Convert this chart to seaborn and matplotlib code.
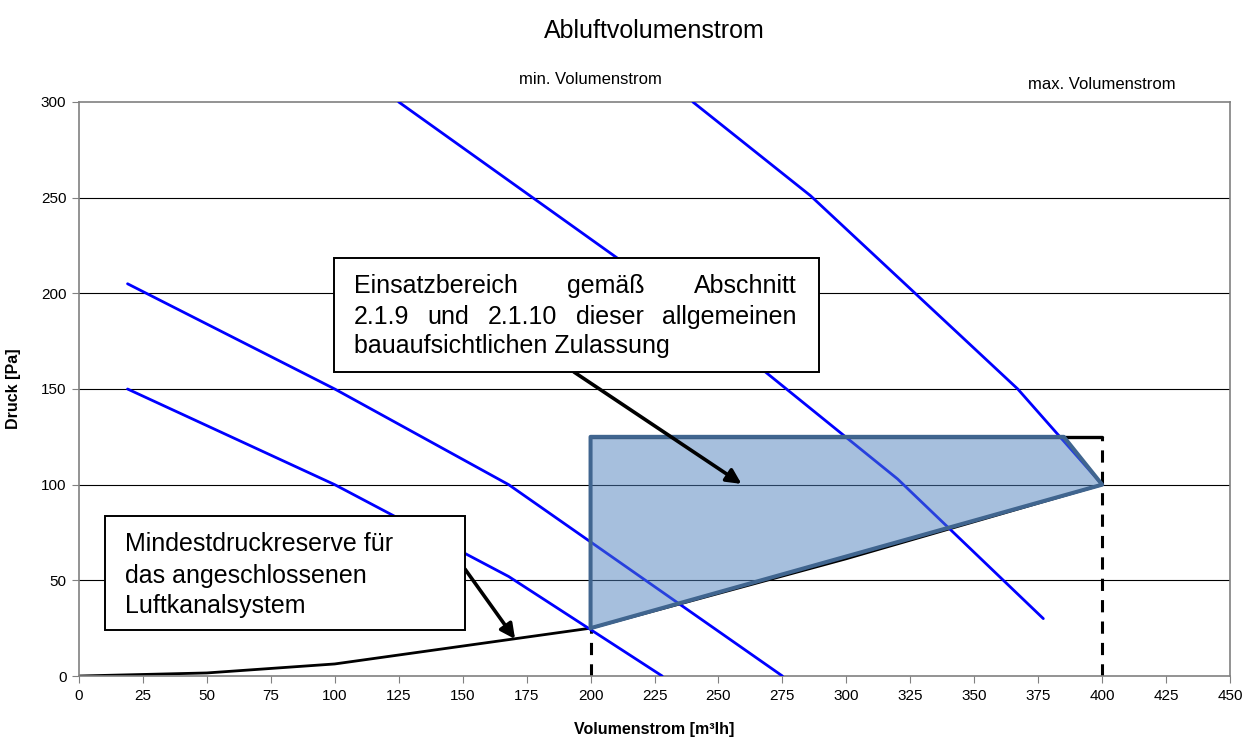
import matplotlib
matplotlib.use("Agg")
import matplotlib.pyplot as plt
import seaborn as sns
import pandas as pd
from matplotlib.patches import Polygon, Rectangle

# data
kennlinie_1_x = [19, 100, 168, 228]
kennlinie_1_y = [150, 100, 52, 0]
kennlinie_2_x = [19, 100, 168, 275]
kennlinie_2_y = [205, 150, 100, 0]
kennlinie_3_x = [125, 235, 320, 377]
kennlinie_3_y = [300, 195, 103, 30]
kennlinie_4_x = [240, 286, 367, 400]
kennlinie_4_y = [300, 251, 150, 100]

anlage_x = [0, 50, 100, 200, 300, 400]
anlage_y = [0, 1.6, 6.3, 25, 61.3, 100]

bereich_x = [200, 200, 385, 400, 200]
bereich_y = [25, 125, 125, 100, 25]

v_min = 200
v_max = 400
p_min = 25
p_max = 125

x_ticks = list(range(0, 451, 25))
y_ticks = list(range(0, 301, 50))

sns.set_style("white")
plt.rcParams["font.family"] = ["Liberation Sans", "DejaVu Sans"]
plt.rcParams["text.color"] = "black"
plt.rcParams["axes.labelcolor"] = "black"
plt.rcParams["xtick.labelcolor"] = "black"
plt.rcParams["ytick.labelcolor"] = "black"

fig = plt.figure(figsize=(12.53, 7.38), dpi=100)
ax = fig.add_axes([0.063, 0.084, 0.9187, 0.7778])

# grid lines
for yv in y_ticks[1:-1]:
    ax.axhline(yv, color="black", lw=0.8, zorder=1)

# system curve and limits (below the range polygon)
df_a = pd.DataFrame({"x": anlage_x, "y": anlage_y})
sns.lineplot(data=df_a, x="x", y="y", sort=False, color="black", lw=2.0, ax=ax, zorder=2)
ax.plot([v_min, v_min], [0, p_min], color="black", lw=2.2, ls=(0, (4, 3)), zorder=2)
ax.plot([v_max, v_max], [0, p_max], color="black", lw=2.2, ls=(0, (4, 3)), zorder=2)
ax.plot([v_min, v_max], [p_max, p_max], color="black", lw=2.4, zorder=2)

# blue fan curves
curves = [(kennlinie_1_x, kennlinie_1_y), (kennlinie_2_x, kennlinie_2_y),
          (kennlinie_3_x, kennlinie_3_y), (kennlinie_4_x, kennlinie_4_y)]
for cx, cy in curves:
    df = pd.DataFrame({"x": cx, "y": cy})
    sns.lineplot(data=df, x="x", y="y", sort=False, color="#0000FF", lw=2.0, ax=ax, zorder=3)

# operating range
poly = Polygon(list(zip(bereich_x, bereich_y)), closed=True,
               facecolor=(79 / 255, 129 / 255, 189 / 255, 0.5),
               edgecolor="#40658F", lw=2.9, zorder=5, joinstyle="round")
ax.add_patch(poly)

ax.set_xlim(0, 450)
ax.set_ylim(0, 300)
ax.set_xticks(x_ticks)
ax.set_yticks(y_ticks)
ax.tick_params(axis="both", direction="out", length=5, width=0.8, color="#808080",
               labelsize=11, pad=4, bottom=True, left=True)
for s in ax.spines.values():
    s.set_color("#808080")
    s.set_linewidth(1.2)

ax.set_xlabel("Volumenstrom [m³lh]", fontsize=11.5, fontweight="bold", labelpad=14)
ax.set_ylabel("Druck [Pa]", fontsize=11.5, fontweight="bold", labelpad=14)

fig.text(0.5223, 0.958, "Abluftvolumenstrom", ha="center", va="center", fontsize=18)
ax.text(v_min, 308, "min. Volumenstrom", ha="center", va="bottom", fontsize=12)
ax.text(v_max, 305, "max. Volumenstrom", ha="center", va="bottom", fontsize=12)

# annotation boxes
ax.add_patch(Rectangle((99.7, 158.9), 289.3 - 99.7, 218.5 - 158.9, facecolor="white",
                       edgecolor="black", lw=1.4, zorder=7))
ax.add_patch(Rectangle((10.2, 24.0), 150.9 - 10.2, 83.4 - 24.0, facecolor="white",
                       edgecolor="black", lw=1.4, zorder=7))

arrow = dict(arrowstyle="-|>", color="black", lw=2.6, mutation_scale=22, shrinkA=0, shrinkB=0)
ax.annotate("", xy=(259, 100.4), xytext=(193.5, 158.9), arrowprops=arrow, zorder=6)
ax.annotate("", xy=(170.5, 19.3), xytext=(150.9, 55.9), arrowprops=arrow, zorder=6)

box_fs = 18
lines_2 = ["Mindestdruckreserve für", "das angeschlossenen", "Luftkanalsystem"]
for txt, yv in zip(lines_2, [69.0, 52.4, 36.7]):
    ax.text(18.2, yv, txt, ha="left", va="center", fontsize=box_fs, zorder=8)

# justified text in the upper box
lines_1 = ["Einsatzbereich gemäß Abschnitt", "2.1.9 und 2.1.10 dieser allgemeinen"]
last_1 = "bauaufsichtlichen Zulassung"
left_x, right_x = 107.5, 280.7
ys_1 = [204.0, 187.7, 172.5]
fig.canvas.draw()
renderer = fig.canvas.get_renderer()
inv = ax.transData.inverted()
for txt, yv in zip(lines_1, ys_1):
    words = txt.split()
    objs = [ax.text(0, yv, w, ha="left", va="center", fontsize=box_fs, zorder=8) for w in words]
    widths = []
    for o in objs:
        bb = o.get_window_extent(renderer)
        w = inv.transform((bb.x1, 0))[0] - inv.transform((bb.x0, 0))[0]
        widths.append(w)
    gap = (right_x - left_x - sum(widths)) / (len(words) - 1)
    pos = left_x
    for o, w in zip(objs, widths):
        o.set_x(pos)
        pos += w + gap
ax.text(left_x, ys_1[2], last_1, ha="left", va="center", fontsize=box_fs, zorder=8)

fig.savefig("out.png", dpi=100)
